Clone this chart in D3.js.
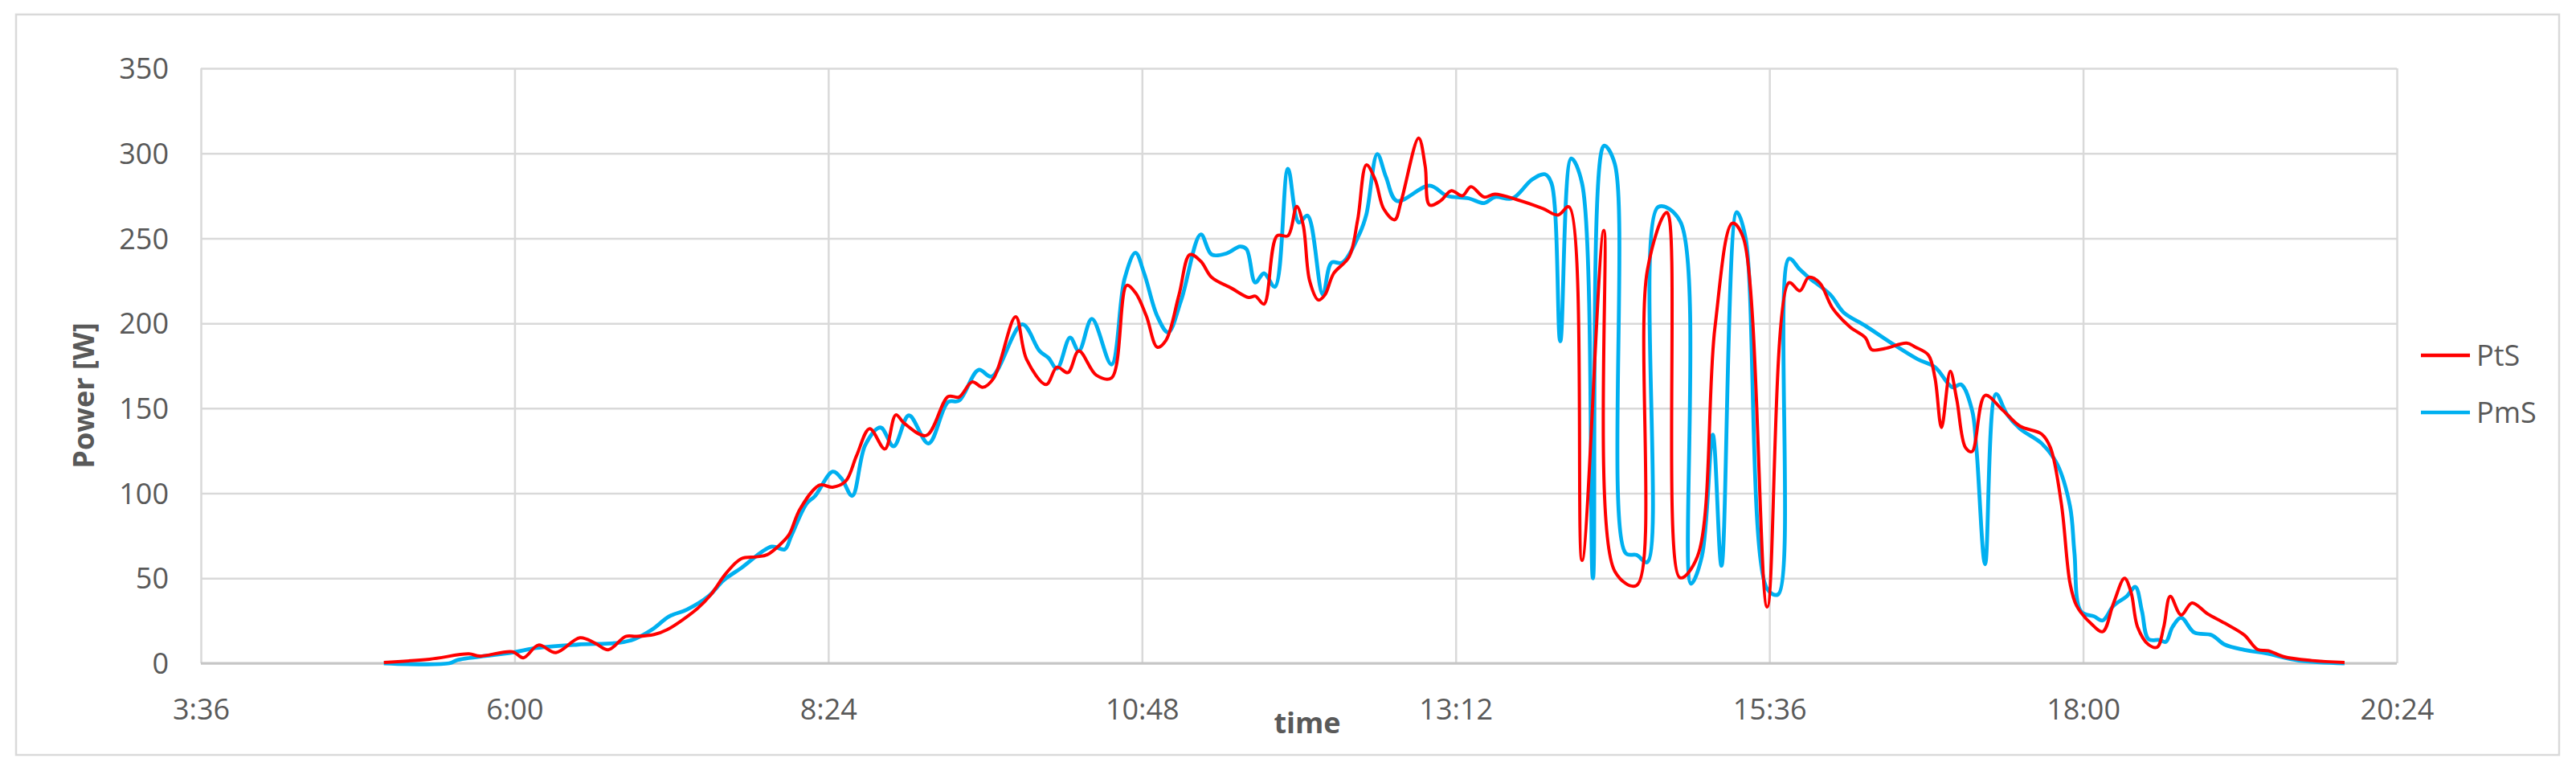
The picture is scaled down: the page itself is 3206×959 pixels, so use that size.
<!DOCTYPE html>
<html><head><meta charset="utf-8">
<script src="https://cdn.jsdelivr.net/npm/d3@7"></script>
<style>body{margin:0;background:#fff}svg{display:block}</style>
</head><body>
<svg id="chart" width="3206" height="959"></svg>
<script>
// ---- data ----
const xTickLabels = ["3:36","6:00","8:24","10:48","13:12","15:36","18:00","20:24"];
const yTickValues = [0,50,100,150,200,250,300,350];
const seriesNames = ["PtS","PmS"];

const ptsTime = ["5:00","5:21","5:39","5:44","5:59","6:04","6:11","6:19","6:30","6:37","6:43","6:51","6:56","7:04","7:10","7:24","7:30","7:37","7:44","7:51","7:56","8:02","8:06","8:11","8:20","8:26","8:32","8:37","8:43","8:50","8:55","8:59","9:09","9:19","9:24","9:30","9:35","9:40","9:50","9:55","10:04","10:09","10:14","10:19","10:27","10:34","10:41","10:45","10:50","10:55","10:59","11:05","11:10","11:15","11:20","11:29","11:37","11:40","11:44","11:50","11:55","11:59","12:02","12:05","12:09","12:12","12:16","12:23","12:27","12:31","12:35","12:39","12:44","12:47","12:55","12:58","13:00","13:05","13:10","13:15","13:19","13:25","13:30","13:40","13:52","13:59","14:04","14:10","14:20","14:25","14:35","14:40","14:49","14:55","15:03","15:11","15:19","15:24","15:35","15:45","15:50","15:54","15:59","16:05","16:13","16:20","16:23","16:29","16:39","16:43","16:49","16:52","16:55","16:59","17:02","17:06","17:09","17:15","17:23","17:31","17:41","17:45","17:50","17:54","17:57","18:04","18:09","18:14","18:19","18:22","18:25","18:30","18:34","18:37","18:40","18:45","18:50","18:57","19:05","19:14","19:20","19:25","19:32","19:45","20:00"];
const ptsValue = [0.5,2.4,5.5,4.2,6.8,3.2,10.7,6.3,15,11.8,7.9,15.8,15.8,16.9,19.7,32.3,40.2,52.8,61.5,62.6,63.9,70,75.7,90.7,104.8,103.6,107.2,122.2,138,126.1,146.1,141,134,156.9,156.6,165.5,162.4,167.9,203.9,178.9,164,174.2,171,183.7,169.5,167.9,222.3,218,204.3,186,190,216.8,240.4,236.5,227,220.7,215.2,216,211.3,251.5,251.5,268.8,257.8,224.8,213.7,216.8,229.4,238.9,260.9,293.2,284.6,267.2,260.9,272,309,292.4,269.6,272,278,275,280.3,274.3,276,272.8,267.5,263.7,268.5,60.5,254.7,54.2,45.8,231.4,265.2,50.3,62.9,197.6,258.9,250.4,33.1,223.9,219.1,227,223.9,208.9,197.8,191.6,184.5,185.2,188.4,186,181.3,167.9,138.7,171.8,155.2,126.9,124.5,157.6,149,139.5,134.8,126.9,94,47,33.9,22.9,18.6,35.5,50,41.8,21.3,11,9.5,21.3,39.4,28.4,35.5,29.2,23.6,16.6,8.2,7.4,3.9,1.6,0.5];

const pmsTime = ["5:00","5:30","5:34","5:59","6:10","6:29","6:48","6:55","7:03","7:11","7:19","7:29","7:36","7:44","7:58","8:04","8:07","8:14","8:18","8:26","8:30","8:35","8:41","8:48","8:54","9:01","9:10","9:19","9:24","9:33","9:39","9:53","10:01","10:05","10:09","10:15","10:19","10:25","10:34","10:40","10:45","10:49","10:55","11:00","11:06","11:15","11:20","11:27","11:33","11:36","11:40","11:44","11:49","11:55","12:00","12:04","12:11","12:15","12:20","12:28","12:31","12:36","12:40","12:45","13:00","13:08","13:18","13:25","13:30","13:38","13:47","13:53","13:56","14:00","14:05","14:10","14:15","14:20","14:25","14:30","14:35","14:40","14:45","14:55","15:00","15:05","15:10","15:14","15:21","15:25","15:35","15:40","15:45","15:50","15:54","16:04","16:10","16:20","16:32","16:44","16:52","17:00","17:04","17:09","17:11","17:15","17:20","17:25","17:31","17:41","17:48","17:54","17:56","17:59","18:05","18:09","18:14","18:20","18:24","18:27","18:30","18:35","18:38","18:41","18:45","18:51","18:59","19:05","19:14","19:24","19:39","20:00"];
const pmsValue = [0,0,2,6.3,9,11,12.1,14.2,19.7,27.6,31.5,39.4,48.9,56,68.6,67,74.9,93.8,98.5,112.7,108.8,98.5,128.5,138.7,127.7,145.8,129.3,153.7,154.5,172.6,168.7,199.4,183.7,179.7,173.4,191.6,183.7,202.6,175.8,226.2,241.5,229.4,204.2,194.7,213.7,252.3,240.4,241.2,245.2,243.6,224,229.4,221.5,290.9,259.3,263.3,216.8,235.7,235.7,253.1,264.1,299.6,286.1,272,281,275,273.5,270.7,274.3,273.5,284.5,287.7,282.3,189.4,297,282.3,50,304.5,293.9,64.8,63.7,59.5,268.5,260.1,46.8,62.9,134.5,57.4,265.4,250.6,43.7,40.5,238,231.6,227,216.8,206.5,198.6,188.4,178.9,174.2,162.4,164,149,126.9,58.3,158.4,146.6,138,129.3,117.4,92.2,65.4,30.5,27.6,25.2,33.9,39.4,44.9,30.7,14.2,13.7,12.6,21.3,26.8,18.1,16.6,11,7.9,5.8,1.6,0];

// ---- helpers ----
const toHours = s => { const [h, m] = s.split(":").map(Number); return h + m / 60; };

const plot = { left: 250, right: 2983, top: 85, bottom: 825 };
const svg = d3.select("#chart");
const font = "'Open Sans', 'Segoe UI', sans-serif";
const textColor = "#595959";
const gridColor = "#d9d9d9";

// frame
svg.append("rect").attr("x", 20).attr("y", 18).attr("width", 3165).attr("height", 921)
  .attr("fill", "#fff").attr("stroke", gridColor).attr("stroke-width", 2.5);

const xTicks = xTickLabels.map(toHours);
const x = d3.scaleLinear().domain([xTicks[0], xTicks[xTicks.length - 1]]).range([plot.left, plot.right]);
const y = d3.scaleLinear().domain([0, 350]).range([plot.bottom, plot.top]);

// horizontal gridlines + y labels
const gY = svg.append("g").attr("transform", `translate(${plot.left},0)`)
  .call(d3.axisLeft(y).tickValues(yTickValues).tickSize(-(plot.right - plot.left)).tickPadding(40).tickFormat(d3.format("d")));
gY.select(".domain").remove();
gY.selectAll(".tick line").attr("stroke", gridColor).attr("stroke-width", 2.5);
gY.selectAll(".tick text").attr("fill", textColor).style("font-family", font).style("font-size", "36px")
  .attr("dy", "0.35em");

// vertical gridlines + x labels
const gX = svg.append("g").attr("transform", `translate(0,${plot.bottom})`)
  .call(d3.axisBottom(x).tickValues(xTicks).tickSize(-(plot.bottom - plot.top)).tickPadding(44)
    .tickFormat((d, i) => xTickLabels[i]));
gX.select(".domain").remove();
gX.selectAll(".tick line").attr("stroke", gridColor).attr("stroke-width", 2.5);
gX.selectAll(".tick text").attr("fill", textColor).style("font-family", font).style("font-size", "36px");

// baseline axis
svg.append("line").attr("x1", plot.left).attr("x2", plot.right).attr("y1", plot.bottom).attr("y2", plot.bottom)
  .attr("stroke", "#c6c6c6").attr("stroke-width", 3);

// axis titles
svg.append("text").attr("transform", `translate(117,492) rotate(-90)`).attr("text-anchor", "middle")
  .attr("fill", textColor).style("font-family", font).style("font-size", "36px").style("font-weight", "bold")
  .text("Power [W]");
svg.append("text").attr("x", 1627).attr("y", 912).attr("text-anchor", "middle")
  .attr("fill", textColor).style("font-family", font).style("font-size", "36px").style("font-weight", "bold")
  .text("time");

// lines
const line = d3.line().x(d => x(d.t)).y(d => y(d.v)).curve(d3.curveCatmullRom.alpha(0.5));
const pts = ptsTime.map((t, i) => ({ t: toHours(t), v: ptsValue[i] }));
const pms = pmsTime.map((t, i) => ({ t: toHours(t), v: pmsValue[i] }));
const colors = ["#FF0000", "#00B0F0"];
const widths = [4, 4.8];

svg.append("path").datum(pms).attr("d", line).attr("fill", "none")
  .attr("stroke", colors[1]).attr("stroke-width", widths[1]).attr("stroke-linejoin", "round");
svg.append("path").datum(pts).attr("d", line).attr("fill", "none")
  .attr("stroke", colors[0]).attr("stroke-width", widths[0]).attr("stroke-linejoin", "round");

// legend
const legY = [442, 513];
seriesNames.forEach((name, i) => {
  svg.append("line").attr("x1", 3013).attr("x2", 3074).attr("y1", legY[i]).attr("y2", legY[i])
    .attr("stroke", colors[i]).attr("stroke-width", 4.5);
  svg.append("text").attr("x", 3082).attr("y", legY[i]).attr("dy", "0.35em")
    .attr("fill", textColor).style("font-family", font).style("font-size", "36px").text(name);
});
</script>
</body></html>
